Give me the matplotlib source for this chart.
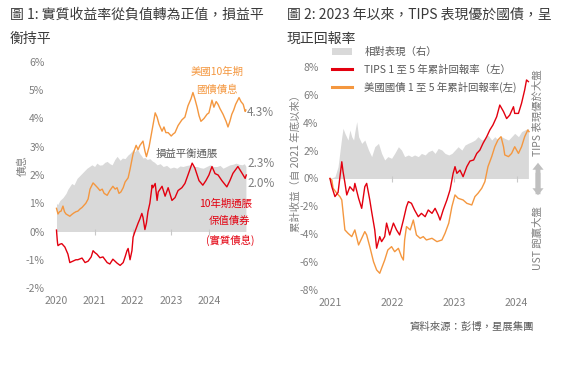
import matplotlib
matplotlib.use('Agg')
import matplotlib.pyplot as plt
from matplotlib.ticker import FuncFormatter

plt.rcParams['font.family'] = ['Noto Sans CJK TC', 'DejaVu Sans']

# ---------------- data: chart 1 ----------------
c1_years_10y = [2020.00, 2020.04, 2020.08, 2020.12, 2020.17, 2020.21, 2020.25, 2020.35, 2020.40, 2020.46,
                2020.51, 2020.56, 2020.62, 2020.67, 2020.77, 2020.83, 2020.88, 2020.96, 2021.01, 2021.08,
                2021.14, 2021.20, 2021.25, 2021.33, 2021.40, 2021.48, 2021.54, 2021.59, 2021.64, 2021.69,
                2021.75, 2021.80, 2021.88, 2021.93, 2022.01, 2022.09, 2022.14, 2022.19, 2022.27, 2022.32,
                2022.36, 2022.43, 2022.51, 2022.59, 2022.64, 2022.69, 2022.77, 2022.82, 2022.87, 2022.93,
                2023.01, 2023.06, 2023.11, 2023.19, 2023.24, 2023.29, 2023.37, 2023.45, 2023.53, 2023.58,
                2023.63, 2023.69, 2023.74, 2023.79, 2023.87, 2023.95, 2024.00, 2024.08, 2024.13, 2024.19,
                2024.24, 2024.29, 2024.37, 2024.45, 2024.50, 2024.55, 2024.60, 2024.65, 2024.70, 2024.79,
                2024.84, 2024.90, 2024.95, 2024.97]
c1_ust10y = [0.82, 0.62, 0.70, 0.72, 0.90, 0.70, 0.62, 0.54, 0.60, 0.66,
             0.70, 0.72, 0.80, 0.85, 1.00, 1.15, 1.50, 1.72, 1.65, 1.55,
             1.45, 1.50, 1.35, 1.28, 1.45, 1.60, 1.50, 1.55, 1.35, 1.40,
             1.55, 1.75, 1.90, 2.20, 2.75, 3.05, 2.90, 3.05, 3.20, 2.85,
             2.65, 3.00, 3.60, 4.20, 4.05, 3.80, 3.55, 3.70, 3.50, 3.50,
             3.38, 3.45, 3.50, 3.75, 3.85, 3.95, 4.05, 4.45, 4.70, 4.92,
             4.70, 4.40, 4.10, 3.90, 4.00, 4.15, 4.20, 4.65, 4.40, 4.60,
             4.50, 4.35, 4.15, 3.90, 3.70, 3.90, 4.15, 4.30, 4.50, 4.74,
             4.60, 4.50, 4.25, 4.30]

c1_years_tips = [2020.00, 2020.02, 2020.03, 2020.04, 2020.09, 2020.14, 2020.22, 2020.30, 2020.35, 2020.43,
                 2020.51, 2020.56, 2020.67, 2020.75, 2020.83, 2020.91, 2020.96, 2021.01, 2021.06, 2021.14,
                 2021.22, 2021.33, 2021.40, 2021.48, 2021.59, 2021.67, 2021.75, 2021.80, 2021.85, 2021.88,
                 2021.93, 2021.98, 2022.01, 2022.06, 2022.14, 2022.19, 2022.24, 2022.27, 2022.32, 2022.36,
                 2022.40, 2022.45, 2022.51, 2022.53, 2022.59, 2022.64, 2022.67, 2022.77, 2022.85, 2022.93,
                 2023.03, 2023.11, 2023.19, 2023.29, 2023.37, 2023.45, 2023.56, 2023.63, 2023.74, 2023.84,
                 2023.92, 2024.00, 2024.08, 2024.16, 2024.24, 2024.34, 2024.47, 2024.55, 2024.63, 2024.76,
                 2024.87, 2024.95, 2024.98]
c1_tips10y = [0.05, -0.30, -0.43, -0.50, -0.45, -0.43, -0.55, -0.80, -1.10, -1.05,
              -1.00, -1.00, -0.94, -1.10, -1.05, -0.90, -0.68, -0.75, -0.80, -0.93,
              -0.90, -1.10, -1.15, -0.98, -1.12, -1.20, -1.10, -0.90, -0.68, -0.60,
              -1.00, -0.68, -0.20, 0.00, 0.29, 0.45, 0.64, 0.50, 0.07, 0.30,
              0.70, 1.00, 1.64, 1.55, 1.70, 1.10, 1.40, 1.60, 1.25, 1.55,
              1.10, 1.20, 1.45, 1.55, 1.70, 2.00, 2.42, 2.25, 1.80, 1.64,
              1.80, 2.00, 2.30, 2.05, 2.00, 1.80, 1.58, 1.80, 2.06, 2.30,
              2.06, 1.88, 2.00]

c1_years_be = [2020.00, 2020.03, 2020.09, 2020.17, 2020.25, 2020.30, 2020.40, 2020.46, 2020.54, 2020.67,
               2020.80, 2020.93, 2021.00, 2021.06, 2021.13, 2021.20, 2021.27, 2021.33, 2021.40, 2021.46,
               2021.53, 2021.59, 2021.67, 2021.73, 2021.80, 2021.87, 2021.93, 2022.01, 2022.06, 2022.11,
               2022.15, 2022.19, 2022.23, 2022.27, 2022.32, 2022.38, 2022.45, 2022.51, 2022.57, 2022.64,
               2022.72, 2022.80, 2022.89, 2022.98, 2023.07, 2023.16, 2023.24, 2023.32, 2023.42, 2023.51,
               2023.60, 2023.69, 2023.77, 2023.85, 2023.94, 2024.03, 2024.12, 2024.21, 2024.29, 2024.37,
               2024.46, 2024.55, 2024.63, 2024.71, 2024.79, 2024.87, 2024.93, 2024.97]
c1_breakeven = [1.00, 0.95, 1.10, 1.20, 1.35, 1.50, 1.70, 1.65, 1.88, 2.06,
                2.24, 2.36, 2.30, 2.42, 2.35, 2.36, 2.45, 2.48, 2.40, 2.36,
                2.55, 2.66, 2.52, 2.60, 2.58, 2.70, 2.77, 2.90, 2.82, 2.95,
                2.85, 2.75, 2.68, 2.60, 2.62, 2.55, 2.58, 2.50, 2.45, 2.36,
                2.40, 2.30, 2.34, 2.24, 2.28, 2.24, 2.32, 2.30, 2.34, 2.36,
                2.30, 2.30, 2.26, 2.24, 2.30, 2.36, 2.30, 2.30, 2.34, 2.24,
                2.30, 2.36, 2.38, 2.42, 2.38, 2.36, 2.40, 2.30]

c1_yticks = [-2, -1, 0, 1, 2, 3, 4, 5, 6]
c1_xticks = [2020, 2021, 2022, 2023, 2024]

# ---------------- data: chart 2 ----------------
c2_years_tips = [2021.00, 2021.03, 2021.08, 2021.13, 2021.19, 2021.21, 2021.24, 2021.27, 2021.32, 2021.38,
                 2021.40, 2021.46, 2021.51, 2021.56, 2021.59, 2021.62, 2021.64, 2021.67, 2021.72, 2021.75,
                 2021.80, 2021.83, 2021.88, 2021.91, 2021.96, 2022.02, 2022.07, 2022.12, 2022.18, 2022.23,
                 2022.26, 2022.31, 2022.36, 2022.42, 2022.47, 2022.53, 2022.58, 2022.64, 2022.69, 2022.74,
                 2022.77, 2022.82, 2022.88, 2022.93, 2022.96, 2022.98, 2023.01, 2023.04, 2023.09, 2023.14,
                 2023.20, 2023.25, 2023.31, 2023.36, 2023.41, 2023.46, 2023.52, 2023.57, 2023.62, 2023.68,
                 2023.73, 2023.79, 2023.84, 2023.89, 2023.95, 2023.97, 2024.03, 2024.08, 2024.13, 2024.16,
                 2024.19]
c2_tips_1_5 = [0.00, -0.59, -1.30, -1.00, 1.20, 0.50, -0.30, -1.18, -0.59, -0.90,
               -0.35, -1.42, -2.14, -0.59, -0.35, -1.06, -1.54, -2.38, -3.69, -5.00,
               -4.17, -4.53, -4.17, -3.20, -4.05, -3.20, -3.69, -4.05, -2.98, -2.02,
               -1.66, -1.78, -2.26, -2.74, -2.50, -2.74, -2.26, -2.50, -2.14, -2.62,
               -2.98, -2.26, -1.54, -0.82, -0.11, 0.37, 0.85, 0.37, 0.60, 0.13,
               0.85, 1.25, 1.33, 1.80, 2.04, 2.52, 3.00, 3.48, 3.84, 4.43,
               5.27, 4.80, 4.30, 4.55, 5.15, 4.67, 4.67, 5.40, 6.35, 7.07,
               6.95]

c2_years_ust = [2021.00, 2021.03, 2021.05, 2021.11, 2021.16, 2021.19, 2021.24, 2021.29, 2021.35, 2021.40,
                2021.46, 2021.51, 2021.56, 2021.59, 2021.64, 2021.70, 2021.75, 2021.80, 2021.83, 2021.88,
                2021.93, 2021.99, 2022.04, 2022.10, 2022.15, 2022.18, 2022.20, 2022.23, 2022.29, 2022.34,
                2022.39, 2022.45, 2022.50, 2022.55, 2022.64, 2022.72, 2022.80, 2022.85, 2022.91, 2022.96,
                2023.01, 2023.06, 2023.14, 2023.20, 2023.28, 2023.33, 2023.38, 2023.44, 2023.49, 2023.54,
                2023.60, 2023.65, 2023.70, 2023.75, 2023.79, 2023.81, 2023.87, 2023.92, 2023.97, 2024.03,
                2024.08, 2024.13, 2024.18, 2024.20]
c2_ust_1_5 = [0.00, -0.11, -0.70, -1.06, -1.30, -1.54, -3.69, -3.93, -4.17, -3.69,
              -4.77, -4.29, -3.81, -4.05, -4.89, -5.97, -6.56, -6.80, -6.44, -5.85,
              -5.13, -4.89, -5.25, -5.01, -5.61, -5.85, -4.41, -3.45, -3.69, -2.98,
              -4.05, -4.29, -4.17, -4.41, -4.29, -4.53, -4.41, -3.93, -3.20, -2.02,
              -1.18, -1.42, -1.54, -1.78, -1.90, -1.30, -1.06, -0.70, -0.23, 0.85,
              1.57, 2.28, 2.76, 3.00, 2.28, 1.69, 1.57, 1.80, 2.28, 1.80,
              2.28, 3.00, 3.48, 3.36]

c2_years_rel = [2021.00, 2021.08, 2021.13, 2021.19, 2021.21, 2021.24, 2021.29, 2021.32, 2021.35, 2021.38,
                2021.40, 2021.43, 2021.46, 2021.51, 2021.56, 2021.62, 2021.67, 2021.72, 2021.78, 2021.83,
                2021.88, 2021.93, 2021.99, 2022.04, 2022.10, 2022.15, 2022.20, 2022.26, 2022.31, 2022.36,
                2022.42, 2022.47, 2022.53, 2022.58, 2022.64, 2022.69, 2022.74, 2022.80, 2022.85, 2022.91,
                2022.96, 2023.01, 2023.06, 2023.12, 2023.17, 2023.22, 2023.28, 2023.33, 2023.38, 2023.44,
                2023.49, 2023.54, 2023.60, 2023.65, 2023.70, 2023.76, 2023.81, 2023.87, 2023.92, 2023.97,
                2024.03, 2024.08, 2024.13, 2024.19]
c2_relative = [0.00, 0.13, 0.85, 3.00, 3.60, 3.24, 2.76, 3.48, 3.00, 2.76,
               3.36, 4.08, 3.00, 2.52, 2.76, 2.04, 1.57, 2.28, 2.52, 1.80,
               1.33, 1.57, 1.45, 1.80, 2.28, 2.04, 1.57, 1.69, 1.57, 1.69,
               1.57, 1.80, 1.69, 1.92, 2.04, 1.80, 2.16, 2.04, 1.80, 1.69,
               1.80, 2.04, 2.28, 2.04, 2.40, 2.52, 2.64, 2.76, 3.00, 2.76,
               2.88, 3.12, 2.76, 3.00, 2.76, 3.00, 2.88, 2.76, 3.00, 3.24,
               3.00, 3.36, 3.48, 3.60]

c2_yticks = [-8, -6, -4, -2, 0, 2, 4, 6, 8]
c2_xticks = [2021, 2022, 2023, 2024]

legend_labels = ['相對表現（右）', 'TIPS 1 至 5 年累計回報率（左）', '美國國債 1 至 5 年累計回報率(左)']

# ---------------- styling ----------------
ORANGE = '#F4973F'
RED = '#E3000F'
GREY_FILL = '#D9D9D9'
TICK_C = '#7F7F7F'
TEXT_C = '#595959'

W, H = 571, 371
fig = plt.figure(figsize=(W / 100, H / 100), dpi=100)


def fx(p):
    return p / W


def fy(p):
    return 1 - p / H


pct = FuncFormatter(lambda v, _: f'{v:.0f}%')


def style_axes(ax, xticks, yticks):
    for s in ax.spines.values():
        s.set_visible(False)
    ax.set_xticks(xticks)
    ax.set_yticks(yticks)
    ax.yaxis.set_major_formatter(pct)
    ax.tick_params(axis='both', length=0, labelsize=7.5, labelcolor=TICK_C)
    ax.tick_params(axis='y', pad=4)
    ax.tick_params(axis='x', pad=6)
    ax.patch.set_visible(False)


# ---------------- chart 1 ----------------
ax1 = fig.add_axes([fx(50), fy(288), (252 - 50) / W, (288 - 62) / H])
ax1.fill_between(c1_years_be, 0, c1_breakeven, color=GREY_FILL, lw=0, zorder=1)
ax1.plot(c1_xticks[1:], [0] * len(c1_xticks[1:]), ls='none', marker='|', ms=4,
         mew=0.8, color='#C8C8C8', zorder=1.5)
ax1.plot(c1_years_10y, c1_ust10y, color=ORANGE, lw=1.0, zorder=2)
ax1.plot(c1_years_tips, c1_tips10y, color=RED, lw=1.0, zorder=3)
ax1.set_xlim(2019.83, 2025.13)
ax1.set_ylim(-2, 6)
style_axes(ax1, c1_xticks, c1_yticks)
ax1.set_ylabel('債息', fontsize=7.5, color=TICK_C)
ax1.yaxis.set_label_coords(-0.11, 0.54)

fig.text(fx(10), fy(15), '圖 1: 實質收益率從負值轉為正值，損益平', fontsize=10, color='#3A3A3A', va='center')
fig.text(fx(10), fy(39), '衡持平', fontsize=10, color='#3A3A3A', va='center')

fig.text(fx(217), fy(72), '美國10年期', fontsize=7.5, color=ORANGE, ha='center', va='center')
fig.text(fx(217), fy(90), '國債債息', fontsize=7.5, color=ORANGE, ha='center', va='center')
fig.text(fx(247), fy(112), '4.3%', fontsize=8.5, color=TICK_C, ha='left', va='center')
fig.text(fx(187), fy(154), '損益平衡通脹', fontsize=7.5, color=TEXT_C, ha='center', va='center')
fig.text(fx(247), fy(164), '2.3%', fontsize=8.5, color=TICK_C, ha='left', va='center')
fig.text(fx(247), fy(183), '2.0%', fontsize=8.5, color=TICK_C, ha='left', va='center')
fig.text(fx(226), fy(204), '10年期通脹', fontsize=7.5, color=RED, ha='center', va='center')
fig.text(fx(230), fy(221), '保值債券', fontsize=7.5, color=RED, ha='center', va='center')
fig.text(fx(230), fy(240), '(實質債息)', fontsize=7.5, color=RED, ha='center', va='center')

# ---------------- chart 2 ----------------
ax2 = fig.add_axes([fx(324), fy(290), (534 - 324) / W, (290 - 67) / H])
ax2r = ax2.twinx()
rel = ax2r.fill_between(c2_years_rel, 0, c2_relative, color=GREY_FILL, lw=0)
ax2r.set_ylim(-8, 8)
ax2r.set_yticks([])
for s in ax2r.spines.values():
    s.set_visible(False)
ax2.set_zorder(ax2r.get_zorder() + 1)
ax2.plot(c2_xticks[1:], [0] * len(c2_xticks[1:]), ls='none', marker='|', ms=4,
         mew=0.8, color='#C8C8C8', zorder=1.5)
l_ust, = ax2.plot(c2_years_ust, c2_ust_1_5, color=ORANGE, lw=1.0, zorder=2)
l_tips, = ax2.plot(c2_years_tips, c2_tips_1_5, color=RED, lw=1.0, zorder=3)
ax2.set_xlim(2020.904, 2024.28)
ax2r.set_xlim(2020.904, 2024.28)
ax2.set_ylim(-8, 8)
style_axes(ax2, c2_xticks, c2_yticks)
ax2.set_ylabel('累計收益（自 2021 年底以來）', fontsize=7.5, color=TICK_C)
ax2.yaxis.set_label_coords(-0.11, 0.58)

leg = fig.legend([rel, l_tips, l_ust], legend_labels, loc='upper left',
                 bbox_to_anchor=(fx(332), fy(47)), frameon=False, fontsize=7.5,
                 handlelength=1.9, handleheight=0.8, handletextpad=1.2, labelspacing=0.68,
                 borderaxespad=0, borderpad=0)
for t in leg.get_texts():
    t.set_color(TEXT_C)
for h in leg.legend_handles[1:]:
    h.set_linewidth(2.2)

fig.text(fx(287), fy(15), '圖 2: 2023 年以來，TIPS 表現優於國債，呈', fontsize=10, color='#3A3A3A', va='center')
fig.text(fx(287), fy(39), '現正回報率', fontsize=10, color='#3A3A3A', va='center')

fig.text(fx(538), fy(113), 'TIPS 表現優於大盤', fontsize=7.5, color=TICK_C, rotation=90,
         ha='center', va='center')
fig.text(fx(538), fy(238), 'UST 跑贏大盤', fontsize=7.5, color=TICK_C, rotation=90,
         ha='center', va='center')
fig.patches.append(matplotlib.patches.FancyArrowPatch(
    (fx(538), fy(197)), (fx(538), fy(160)), transform=fig.transFigure,
    arrowstyle='simple,head_length=5,head_width=8,tail_width=3.5', color='#BFBFBF', lw=0))
fig.patches.append(matplotlib.patches.FancyArrowPatch(
    (fx(538), fy(170)), (fx(538), fy(198)), transform=fig.transFigure,
    arrowstyle='simple,head_length=5,head_width=8,tail_width=3.5', color='#BFBFBF', lw=0))

fig.text(fx(534), fy(327), '資料來源：彭博，星展集團', fontsize=7.5, color=TEXT_C, ha='right', va='center')

fig.savefig('out.png', dpi=100)
